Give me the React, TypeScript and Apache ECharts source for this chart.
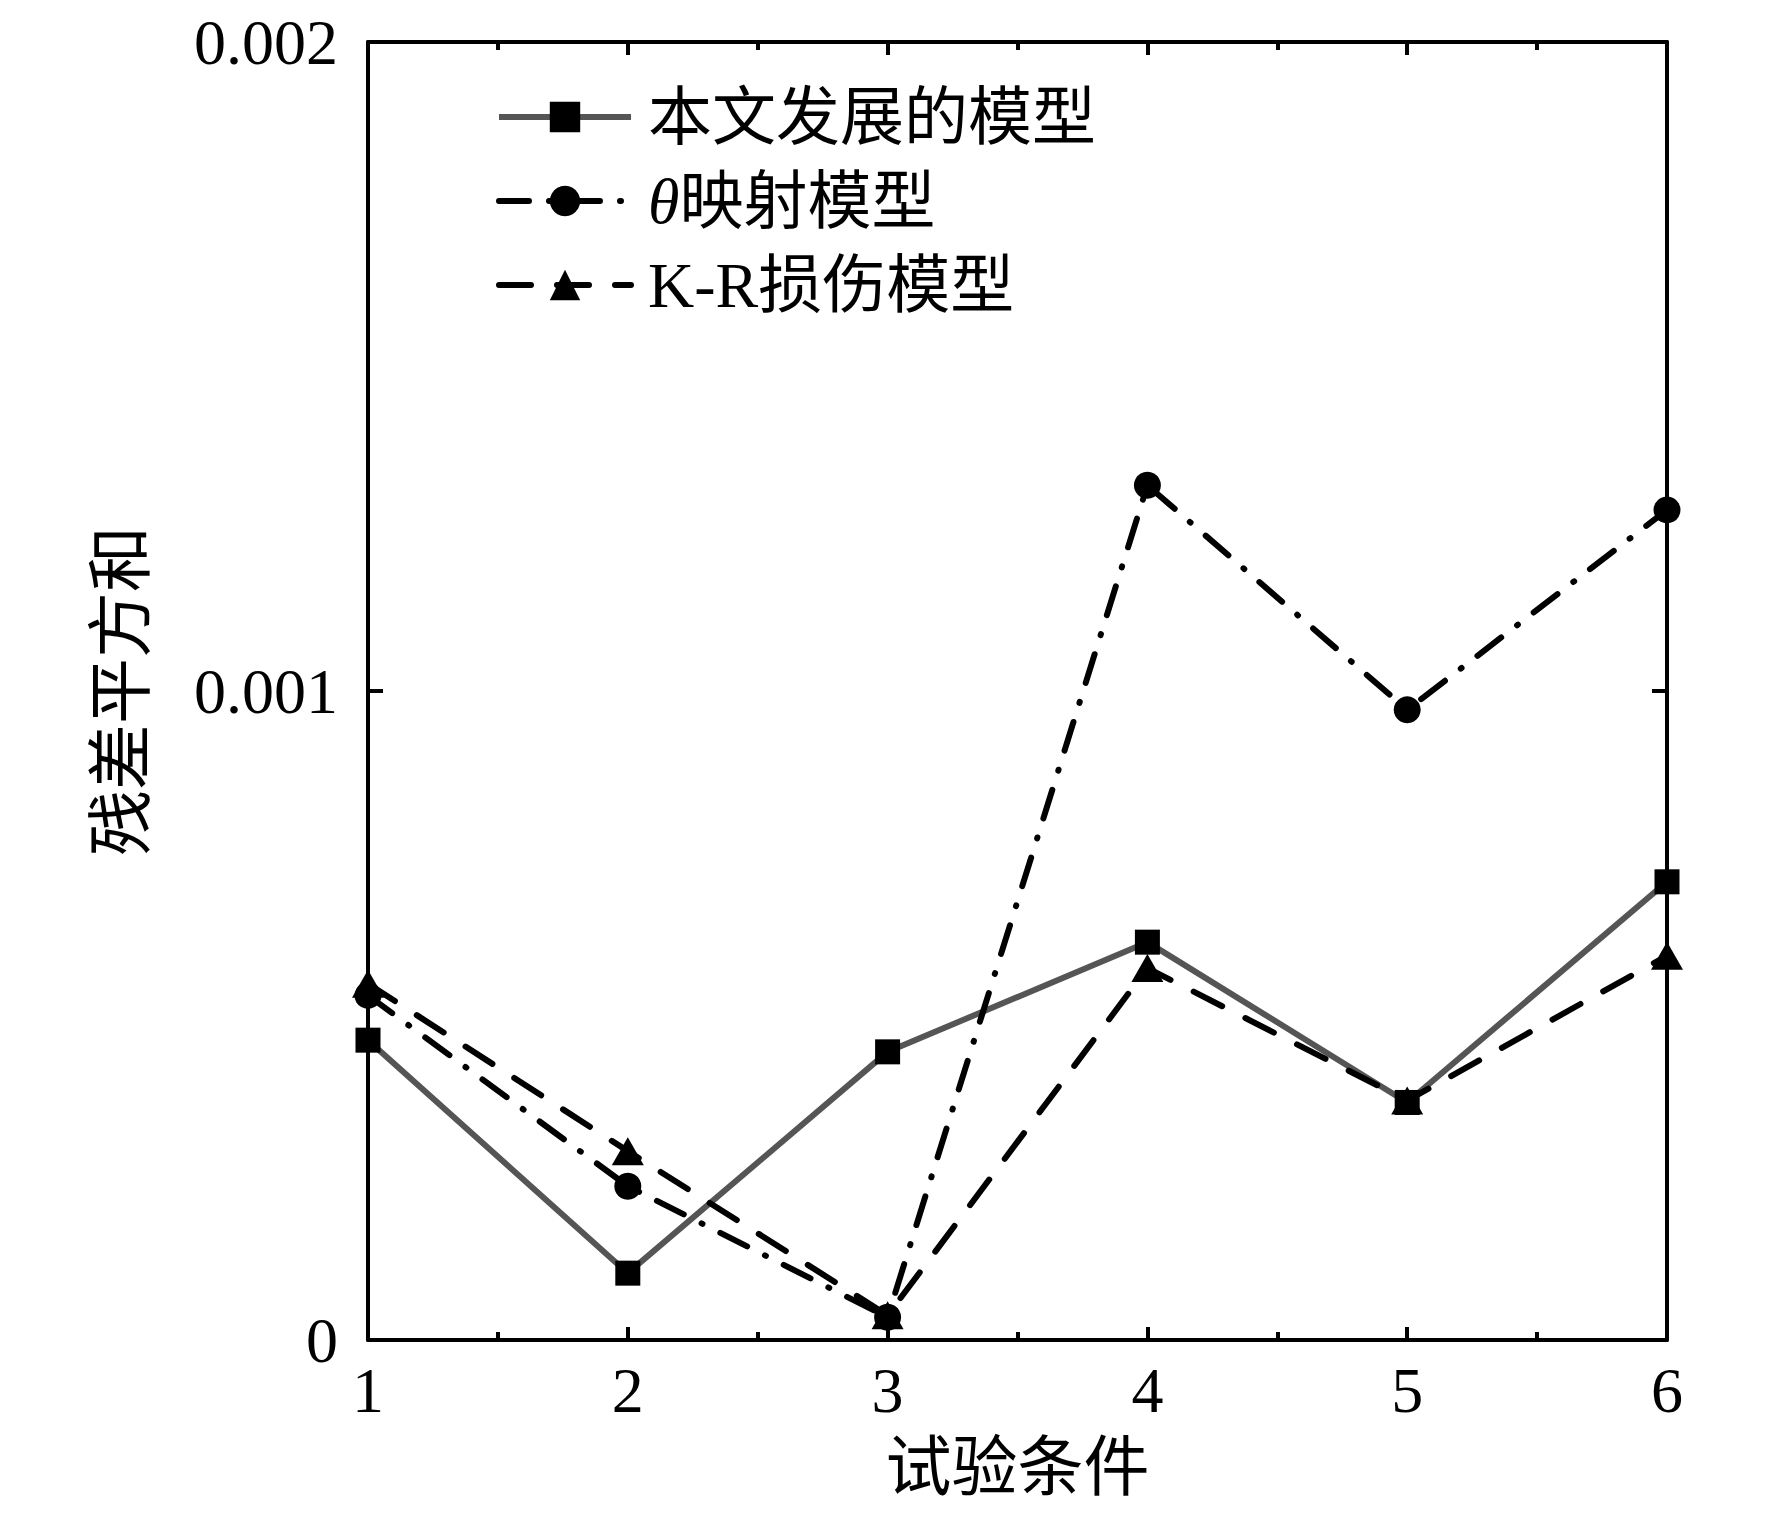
import React, { useEffect, useRef } from 'react';
import * as echarts from 'echarts';

// test conditions on the x axis
const conditions = [1, 2, 3, 4, 5, 6];
const yTickLabels = ['0', '0.001', '0.002'];

// residual sum of squares
const developedModel = [0.000462, 0.000103, 0.000444, 0.000613, 0.000366, 0.000706];
const thetaModel = [0.000531, 0.000237, 0.000035, 0.001317, 0.000971, 0.001279];
const krModel = [0.000549, 0.000291, 0.000038, 0.000573, 0.000369, 0.000592];

const seriesNames = ['本文发展的模型', 'θ映射模型', 'K-R损伤模型'];

const FONT = '"Liberation Serif", "Times New Roman", "Noto Sans CJK SC", serif';

const App: React.FC = () => {
  const chartRef = useRef<HTMLDivElement>(null);

  useEffect(() => {
    const chart = echarts.init(chartRef.current!, undefined, { renderer: 'svg' });

    const axisLine = { show: true, onZero: false, lineStyle: { color: '#000', width: 4 } };

    const xBase = {
      type: 'value',
      min: 1,
      max: 6,
      interval: 1,
      axisLine,
      axisTick: { show: true, inside: true, length: 13, lineStyle: { color: '#000', width: 4 } },
      minorTick: { show: true, splitNumber: 2, length: 8, lineStyle: { color: '#000', width: 4 } },
      splitLine: { show: false },
    };

    const yBase = {
      type: 'value',
      min: 0,
      max: 0.002,
      interval: 0.001,
      axisLine,
      axisTick: { show: true, inside: true, length: 15, lineStyle: { color: '#000', width: 4 } },
      splitLine: { show: false },
    };

    const pair = (vals: number[]) => conditions.map((c, i) => [c, vals[i]]);

    const lineStyles = [
      { color: '#555', width: 6 },
      { color: '#000', width: 6, type: [30, 20, 1, 20], cap: 'round' },
      { color: '#000', width: 6, type: [32, 26], cap: 'round' },
    ];

    const options = {
      animation: false,
      backgroundColor: '#fff',
      grid: { left: 368, right: 105, top: 42, bottom: 176, containLabel: false },
      legend: {
        orient: 'vertical',
        left: 491,
        top: 80,
        itemWidth: 132,
        itemHeight: 38,
        itemGap: 20,
        data: seriesNames.map((name, i) => ({
          name,
          lineStyle: { ...lineStyles[i], width: 6 },
        })),
        formatter: (name: string) => (name.startsWith('θ') ? '{i|θ}' + name.slice(1) : name),
        textStyle: {
          fontFamily: FONT,
          fontSize: 64,
          lineHeight: 64,
          color: '#000',
          padding: [0, 0, 0, 12],
          rich: {
            i: { fontFamily: FONT, fontSize: 64, fontStyle: 'italic', color: '#000' },
          },
        },
      },
      xAxis: [
        {
          ...xBase,
          position: 'bottom',
          name: '试验条件',
          nameLocation: 'middle',
          nameGap: 94,
          nameTextStyle: { fontFamily: FONT, fontSize: 66, color: '#000' },
          axisLabel: {
            show: true,
            margin: 18,
            fontFamily: FONT,
            fontSize: 64,
            color: '#000',
            formatter: (v: number) => String(v),
          },
        },
        {
          ...xBase,
          position: 'top',
          axisLabel: { show: false },
        },
      ],
      yAxis: [
        {
          ...yBase,
          position: 'left',
          name: '残差平方和',
          nameLocation: 'middle',
          nameRotate: 90,
          nameGap: 214,
          nameTextStyle: { fontFamily: FONT, fontSize: 66, color: '#000' },
          axisLabel: {
            show: true,
            margin: 30,
            fontFamily: FONT,
            fontSize: 64,
            color: '#000',
            padding: [0, 0, 12, 0],
            formatter: (_v: number, i: number) => yTickLabels[i],
          },
        },
        {
          ...yBase,
          position: 'right',
          axisLabel: { show: false },
        },
      ],
      series: [
        {
          name: seriesNames[0],
          type: 'line',
          data: pair(developedModel),
          symbol: 'rect',
          symbolSize: 25,
          lineStyle: lineStyles[0],
          itemStyle: { color: '#000' },
          z: 3,
        },
        {
          name: seriesNames[1],
          type: 'line',
          data: pair(thetaModel),
          symbol: 'circle',
          symbolSize: 27,
          lineStyle: lineStyles[1],
          itemStyle: { color: '#000' },
          z: 4,
        },
        {
          name: seriesNames[2],
          type: 'line',
          data: pair(krModel),
          symbol: 'triangle',
          symbolSize: [32, 28],
          lineStyle: lineStyles[2],
          itemStyle: { color: '#000' },
          z: 5,
        },
      ],
    };

    chart.setOption(options);

    return () => {
      chart.dispose();
    };
  }, []);

  return (
    <div
      ref={chartRef}
      style={{ position: 'absolute', left: 0, top: 0, width: '1772px', height: '1516px' }}
    />
  );
};

export default App;
